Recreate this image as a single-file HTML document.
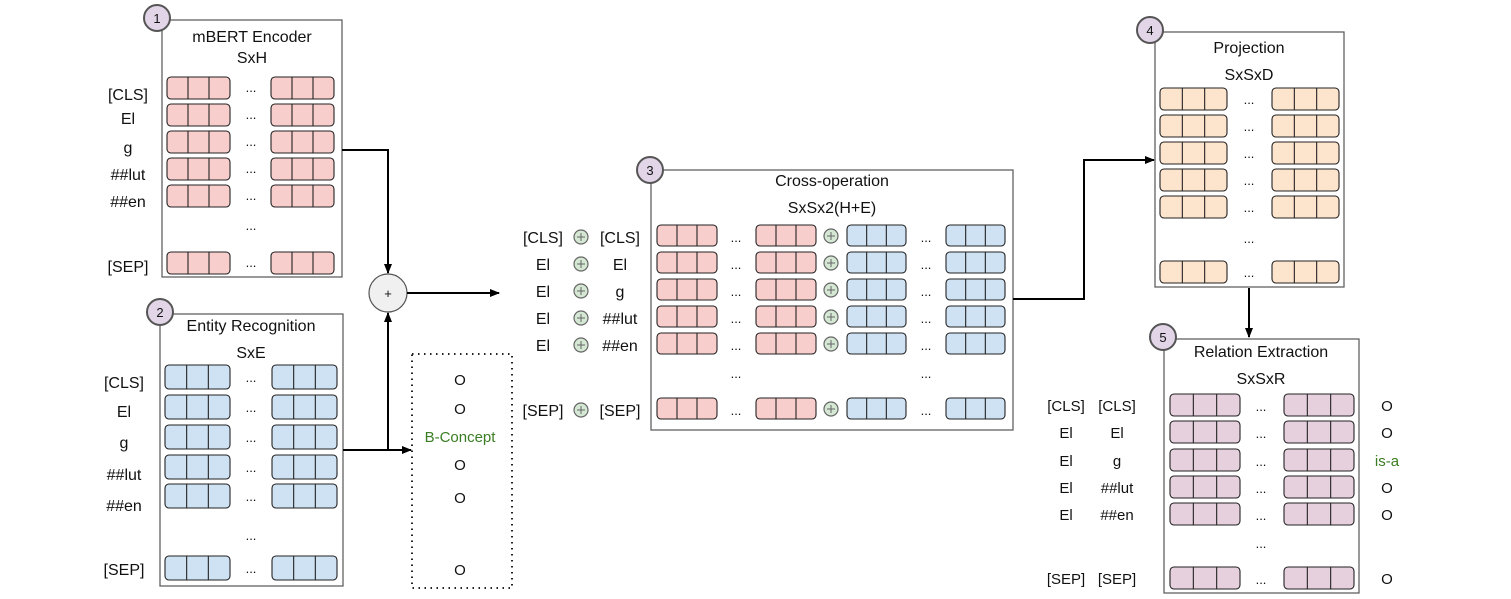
<!DOCTYPE html>
<html><head><meta charset="utf-8"><style>
html,body{margin:0;padding:0;background:#fff}
svg{display:block}
text{font-family:"Liberation Sans",Arial,sans-serif;fill:#111}
</style></head><body>
<svg id="s" width="1511" height="599" viewBox="0 0 1511 599" xmlns="http://www.w3.org/2000/svg">
<defs>
<marker id="ah" markerWidth="10" markerHeight="10" refX="9" refY="5" orient="auto" markerUnits="userSpaceOnUse">
<path d="M0,1 L10,5 L0,9 Z" fill="#000"/></marker>
</defs>
<g id="g"></g>
</svg>
<script>
const g=document.getElementById('g');let h='';
function box(x,y,w,hh){h+=`<rect x="${x}" y="${y}" width="${w}" height="${hh}" fill="#fff" stroke="#555" stroke-width="1.2"/>`;}
function circ(cx,cy,n){h+=`<circle cx="${cx}" cy="${cy}" r="13" fill="#e1d5e7" stroke="#555" stroke-width="2"/><text x="${cx}" y="${cy+5}" font-size="13" text-anchor="middle">${n}</text>`;}
function t(x,y,s,fs,col){h+=`<text x="${x}" y="${y}" font-size="${fs||16}" text-anchor="middle"${col?` style="fill:${col}"`:''}>${s}</text>`;}
function cell(x,y,w,hh,fill){h+=`<rect x="${x}" y="${y}" width="${w}" height="${hh}" rx="4" fill="${fill}" stroke="#222" stroke-width="1.1"/>`;
 for(let i=1;i<3;i++){const xx=x+w*i/3;h+=`<line x1="${xx}" y1="${y}" x2="${xx}" y2="${y+hh}" stroke="#222" stroke-width="1.1"/>`;}}
function dots(x,y){t(x,y,'...',13);}
function plus(cx,cy){h+=`<circle cx="${cx}" cy="${cy}" r="7" fill="#d5e8d4" stroke="#666" stroke-width="1.2"/><line x1="${cx-4}" y1="${cy}" x2="${cx+4}" y2="${cy}" stroke="#666"/><line x1="${cx}" y1="${cy-4}" x2="${cx}" y2="${cy+4}" stroke="#666"/>`;}
const PINK='#f8cecc',BLUE='#cfe2f3',ORG='#fde4cc',PUR='#e6d0de';
// Box1
box(162,20,180,257);circ(157,18,1);t(252,42,'mBERT Encoder');t(252,63,'SxH');
const r1=[77,104,131,158,185,252],l1=['[CLS]','El','g','##lut','##en','[SEP]'],ly1=[100,124,153,180,207,272];
r1.forEach((y,i)=>{cell(167,y,63,22,PINK);cell(271,y,63,22,PINK);dots(251,y+15);t(128,ly1[i],l1[i]);});
dots(251,230);
// Box2
box(160,314,183,272);circ(160,312,2);t(251,331,'Entity Recognition');t(251,358,'SxE');
const r2=[365,395,425,455,484,556],l2=['[CLS]','El','g','##lut','##en','[SEP]'],ly2=[388,417,448,480,511,575];
r2.forEach((y,i)=>{cell(165,y,65,24,BLUE);cell(272,y,65,24,BLUE);dots(251,y+17);t(124,ly2[i],l2[i]);});
dots(251,540);
// plus node
h+=`<circle cx="388" cy="293" r="19" fill="#f0f0f0" stroke="#555" stroke-width="1.2"/>`;t(388,298,'+',13);
// connectors
h+=`<path d="M342,150 H388 V273" fill="none" stroke="#000" stroke-width="2" marker-end="url(#ah)"/>`;
h+=`<path d="M343,450 H388 V313" fill="none" stroke="#000" stroke-width="2" marker-end="url(#ah)"/>`;
h+=`<path d="M388,450 H411" fill="none" stroke="#000" stroke-width="2" marker-end="url(#ah)"/>`;
h+=`<path d="M407,293 H499" fill="none" stroke="#000" stroke-width="2" marker-end="url(#ah)"/>`;
// dotted box
h+=`<rect x="412" y="354" width="100" height="234" fill="none" stroke="#222" stroke-width="2" stroke-dasharray="1.5,4.5"/>`;
[[385,'O'],[414,'O'],[442,'B-Concept'],[470,'O'],[503,'O'],[575,'O']].forEach(a=>t(460,a[0],a[1],15,a[1]=='O'?null:'#3a7d22'));
// Box3
box(651,170,362,260);circ(650,170,3);t(832,186,'Cross-operation');t(832,213,'SxSx2(H+E)');
const r3=[225,252,279,306,333,398],la=['[CLS]','El','El','El','El','[SEP]'],lb=['[CLS]','El','g','##lut','##en','[SEP]'];
r3.forEach((y,i)=>{cell(657,y,60,21,PINK);cell(756,y,60,21,PINK);plus(831,y+11);cell(847,y,59,21,BLUE);cell(946,y,59,21,BLUE);
 dots(736,y+17);dots(926,y+17);t(543,y+18,la[i]);plus(581,y+12);t(620,y+18,lb[i]);});
dots(736,378);dots(926,378);
// arrow 3->4
h+=`<path d="M1013,299 H1084 V160 H1154" fill="none" stroke="#000" stroke-width="2" marker-end="url(#ah)"/>`;
// Box4
box(1155,32,189,255);circ(1150,30,4);t(1249,53,'Projection');t(1249,80,'SxSxD');
[88,115,142,169,196,261].forEach(y=>{cell(1160,y,67,22,ORG);cell(1272,y,67,22,ORG);dots(1249,y+16);});
dots(1249,243);
h+=`<path d="M1249,288 H1249 V337" fill="none" stroke="#000" stroke-width="2" marker-end="url(#ah)"/>`;
// Box5
box(1164,339,195,254);circ(1163,337,5);t(1261,357,'Relation Extraction');t(1261,384,'SxSxR');
const r5=[394,421,449,476,503,567],o5=['O','O','is-a','O','O','O'];
r5.forEach((y,i)=>{cell(1170,y,70,22,PUR);cell(1284,y,70,22,PUR);dots(1261,y+17);t(1066,y+17,la[i],15);t(1117,y+17,lb[i],15);
 t(1387,y+17,o5[i],15,o5[i]=='O'?null:'#3a7d22');});
dots(1261,548);
g.innerHTML=h;
</script>
</body></html>
